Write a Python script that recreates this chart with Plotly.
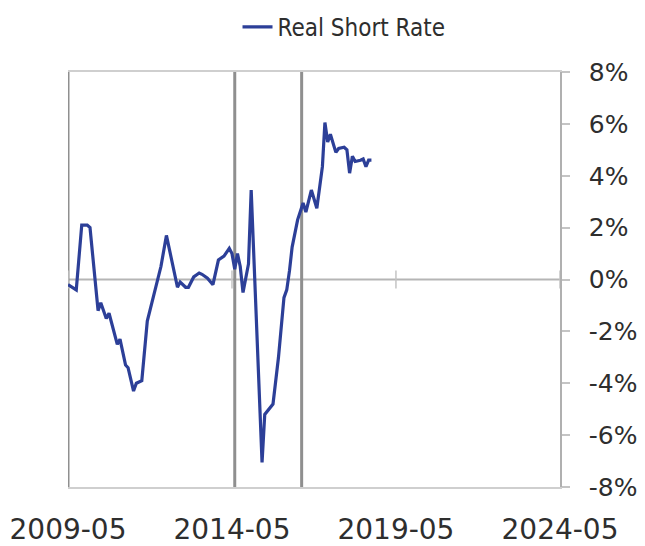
import plotly.graph_objects as go

# Real short rate (percent)
dates = [
    "2009-05", "2009-08", "2009-10", "2009-12", "2010-01", "2010-03", "2010-04",
    "2010-05", "2010-07", "2010-08", "2010-11", "2010-12", "2011-02", "2011-03",
    "2011-05", "2011-06", "2011-08", "2011-10", "2011-12", "2012-01", "2012-03",
    "2012-05", "2012-09", "2012-10", "2012-12", "2013-01", "2013-03", "2013-05",
    "2013-06", "2013-08", "2013-10", "2013-12", "2014-02", "2014-04", "2014-05",
    "2014-06", "2014-07", "2014-08", "2014-09", "2014-11", "2014-12", "2015-04",
    "2015-05", "2015-08", "2015-10", "2015-12", "2016-01", "2016-02", "2016-03",
    "2016-05", "2016-07", "2016-08", "2016-10", "2016-12", "2017-02", "2017-03",
    "2017-04", "2017-05", "2017-07", "2017-08", "2017-10", "2017-11", "2017-12",
    "2018-01", "2018-02", "2018-04", "2018-05", "2018-06", "2018-07", "2018-08",
]
real_short_rate = [
    -0.2, -0.4, 2.1, 2.1, 2.0, 0.0, -1.2,
    -0.9, -1.5, -1.3, -2.5, -2.3, -3.3, -3.4,
    -4.3, -4.0, -3.9, -1.6, -0.8, -0.3, 0.5,
    1.7, -0.3, -0.1, -0.3, -0.3, 0.1, 0.25,
    0.2, 0.05, -0.2, 0.75, 0.9, 1.2, 1.0,
    0.4, 1.0, 0.5, -0.5, 0.6, 3.45, -7.05,
    -5.2, -4.8, -3.0, -0.7, -0.4, 0.35, 1.25,
    2.3, 2.95, 2.6, 3.45, 2.75, 4.35, 6.05,
    5.3, 5.6, 4.9, 5.05, 5.1, 5.0, 4.1,
    4.75, 4.55, 4.6, 4.65, 4.35, 4.6, 4.6,
]

x_tick_dates = ["2009-05-01", "2014-05-01", "2019-05-01", "2024-05-01"]
x_tick_labels = ["2009-05", "2014-05", "2019-05", "2024-05"]
y_ticks = [-8, -6, -4, -2, 0, 2, 4, 6, 8]
y_tick_labels = [f"{v}%" for v in y_ticks]

# vertical marker lines (left edge + two events)
event_dates = ["2009-05-01", "2014-06-01", "2016-06-15"]

FONT = "DejaVu Sans"
TEXT = "#2e2e2e"

fig = go.Figure()
fig.add_trace(go.Scatter(
    x=[d + "-01" for d in dates],
    y=real_short_rate,
    mode="lines",
    name="Real Short Rate",
    line=dict(color="#2c3f98", width=3.2),
))

shapes = []
# zero line
shapes.append(dict(type="line", xref="paper", yref="y", x0=0, x1=1, y0=0, y1=0,
                   line=dict(color="#b5b5b5", width=2), layer="below"))
for d in event_dates:
    shapes.append(dict(type="line", xref="x", yref="paper", x0=d, x1=d, y0=0, y1=1,
                       line=dict(color="#8f8f8f", width=3), layer="below"))
# small x ticks on the zero line
for d in x_tick_dates:
    shapes.append(dict(type="line", xref="x", yref="y", x0=d, x1=d, y0=-0.35, y1=0.35,
                       line=dict(color="#c4c4c4", width=1.5), layer="below"))
fig.update_layout(shapes=shapes)

# the page body adds an 8px margin, so the figure is sized to fit inside it
fig.update_layout(
    width=637,
    height=538,
    margin=dict(l=60, r=85, t=64, b=59, autoexpand=False),
    paper_bgcolor="white",
    plot_bgcolor="white",
    font=dict(family=FONT, color=TEXT),
    showlegend=True,
    legend=dict(
        orientation="h",
        x=0.561, xanchor="center",
        y=1.108, yanchor="middle",
        font=dict(family="DejaVu Sans Condensed, DejaVu Sans", size=24, color=TEXT),
        bgcolor="rgba(0,0,0,0)",
    ),
    xaxis=dict(
        type="date",
        range=["2009-05-01", "2024-05-01"],
        tickvals=x_tick_dates,
        ticktext=x_tick_labels,
        tickfont=dict(family=FONT, size=28, color=TEXT),
        showgrid=False,
        zeroline=False,
        showline=True,
        mirror=True,
        linecolor="#cfcfcf",
        linewidth=2,
        ticks="",
        ticklabelstandoff=16,
        automargin=False,
    ),
    yaxis=dict(
        side="right",
        range=[-8, 8],
        tickvals=y_ticks,
        ticktext=y_tick_labels,
        tickfont=dict(family=FONT, size=25, color=TEXT),
        showgrid=False,
        zeroline=False,
        showline=True,
        linecolor="#b0b0b0",
        linewidth=1.5,
        ticks="outside",
        ticklen=8,
        tickcolor="#c4c4c4",
        tickwidth=1.5,
        ticklabelstandoff=14,
        automargin=False,
    ),
)

fig.write_html("out.html")
